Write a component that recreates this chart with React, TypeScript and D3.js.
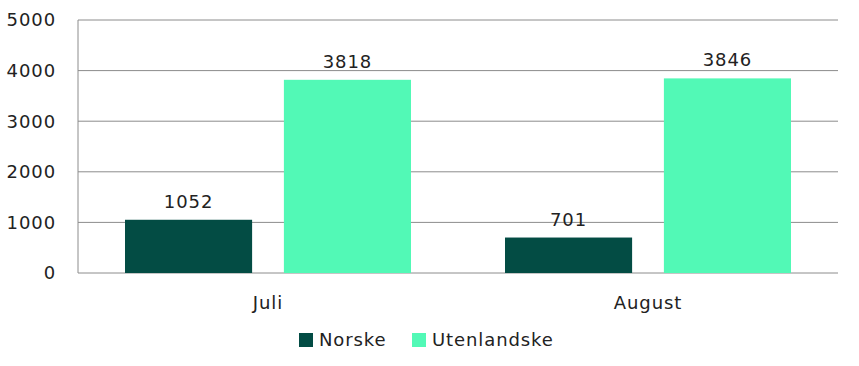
import React, { useEffect, useRef } from "react";
import * as d3 from "d3";

const months = ["Juli", "August"];
const seriesNames = ["Norske", "Utenlandske"];
const norske = [1052, 701];
const utenlandske = [3818, 3846];
const yTicks = [0, 1000, 2000, 3000, 4000, 5000];

const colors = ["#034c44", "#52f9b6"];

const App: React.FC = () => {
  const svgRef = useRef<SVGSVGElement | null>(null);

  useEffect(() => {
    if (!svgRef.current) return;
    const width = 859;
    const height = 366;
    const margin = { top: 20, right: 21, bottom: 93, left: 78 };
    const font = "'DejaVu Sans', sans-serif";
    const fontSize = 18;
    const spacing = 0.9;

    const svg = d3.select(svgRef.current);
    svg.selectAll("*").remove();

    const innerW = width - margin.left - margin.right;
    const innerH = height - margin.top - margin.bottom;
    const chart = svg
      .append("g")
      .attr("transform", `translate(${margin.left},${margin.top})`);

    const x0 = d3.scaleBand().domain(months).range([0, innerW]).paddingInner(0).paddingOuter(0);
    const x1 = d3
      .scaleBand()
      .domain(seriesNames)
      .range([47, x0.bandwidth() - 47])
      .paddingInner(0.2)
      .paddingOuter(0);
    const y = d3.scaleLinear().domain([0, 5000]).range([innerH, 0]);

    // gridlines
    chart
      .selectAll("line.grid")
      .data(yTicks)
      .enter()
      .append("line")
      .attr("x1", 0)
      .attr("x2", innerW)
      .attr("y1", (d) => y(d))
      .attr("y2", (d) => y(d))
      .attr("stroke", "#8c8c8c")
      .attr("stroke-width", 1);

    chart
      .append("line")
      .attr("x1", 0)
      .attr("x2", 0)
      .attr("y1", 0)
      .attr("y2", innerH)
      .attr("stroke", "#8c8c8c");

    chart
      .selectAll("text.ytick")
      .data(yTicks)
      .enter()
      .append("text")
      .attr("x", -22)
      .attr("y", (d) => y(d))
      .attr("dy", "0.35em")
      .attr("text-anchor", "end")
      .attr("font-family", font)
      .attr("font-size", fontSize)
      .attr("letter-spacing", spacing)
      .attr("fill", "#222")
      .text((d) => d);

    const rows = months.map((m, i) => ({ month: m, values: [norske[i], utenlandske[i]] }));

    const groups = chart
      .selectAll("g.month")
      .data(rows)
      .enter()
      .append("g")
      .attr("transform", (d) => `translate(${x0(d.month)},0)`);

    groups
      .selectAll("rect")
      .data((d) => d.values.map((v, j) => ({ key: seriesNames[j], v, j })))
      .enter()
      .append("rect")
      .attr("x", (d) => x1(d.key)!)
      .attr("width", x1.bandwidth())
      .attr("y", (d) => y(d.v))
      .attr("height", (d) => innerH - y(d.v))
      .attr("fill", (d) => colors[d.j]);

    groups
      .selectAll("text.val")
      .data((d) => d.values.map((v, j) => ({ key: seriesNames[j], v })))
      .enter()
      .append("text")
      .attr("x", (d) => x1(d.key)! + x1.bandwidth() / 2)
      .attr("y", (d) => y(d.v) - 12)
      .attr("text-anchor", "middle")
      .attr("font-family", font)
      .attr("font-size", fontSize)
      .attr("letter-spacing", spacing)
      .attr("fill", "#222")
      .text((d) => d.v);

    groups
      .append("text")
      .attr("x", x0.bandwidth() / 2)
      .attr("y", innerH + 36)
      .attr("text-anchor", "middle")
      .attr("font-family", font)
      .attr("font-size", fontSize)
      .attr("letter-spacing", spacing)
      .attr("fill", "#222")
      .text((d) => d.month);

    // legend
    const legend = svg.append("g").attr("transform", "translate(299,333)");
    const legendX = [0, 113];
    seriesNames.forEach((name, i) => {
      const g = legend.append("g").attr("transform", `translate(${legendX[i]},0)`);
      g.append("rect").attr("width", 14).attr("height", 14).attr("fill", colors[i]);
      g.append("text")
        .attr("x", 20)
        .attr("y", 7)
        .attr("dy", "0.35em")
        .attr("font-family", font)
        .attr("font-size", fontSize)
        .attr("letter-spacing", spacing)
        .attr("fill", "#222")
        .text(name);
    });
  }, []);

  return (
    <svg
      ref={svgRef}
      width={859}
      height={366}
      style={{ position: "absolute", left: 0, top: 0, background: "#fff" }}
    ></svg>
  );
};

export default App;
